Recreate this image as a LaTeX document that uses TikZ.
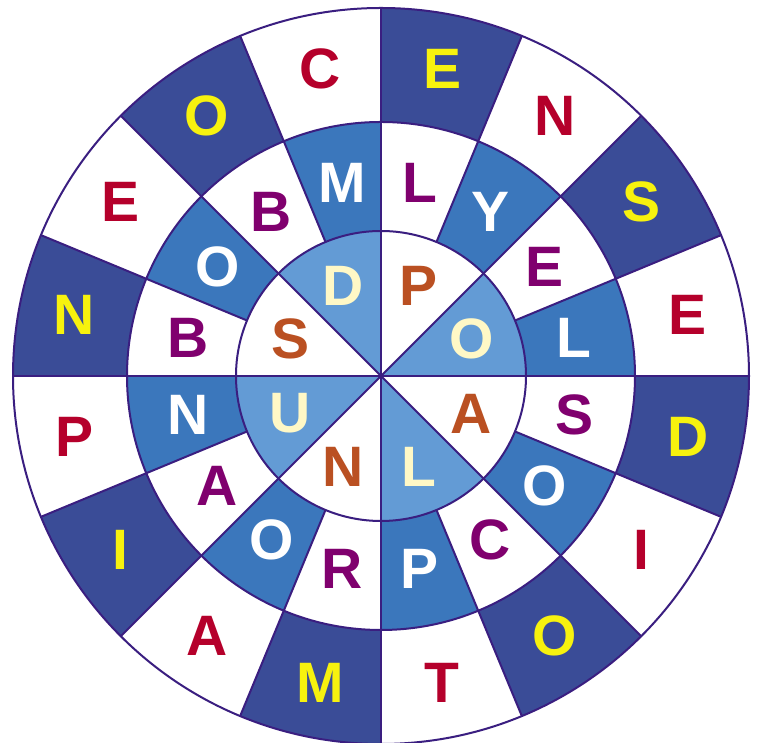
\documentclass[tikz,border=0pt]{standalone}
\usepackage{fontspec}
\setmainfont{Liberation Sans}
\definecolor{rim}{RGB}{58,30,128}
\definecolor{dkblue}{RGB}{58,76,151}
\definecolor{mdblue}{RGB}{59,119,188}
\definecolor{ltblue}{RGB}{99,155,213}
\definecolor{crim}{RGB}{181,0,43}
\definecolor{yell}{RGB}{247,242,14}
\definecolor{purp}{RGB}{128,0,110}
\definecolor{pale}{RGB}{255,248,198}
\definecolor{orng}{RGB}{186,80,34}
\tikzset{
  letter/.style={font=\fontsize{57}{57}\selectfont\bfseries, inner sep=0pt},
  rimline/.style={draw=rim, line width=2pt}
}
\begin{document}
\begin{tikzpicture}[x=1pt,y=1pt]
\useasboundingbox (0,0) rectangle (764,743);
\begin{scope}[shift={(381,367)}]
% outer ring
\foreach \i/\c/\t/\tc in {0/white/E/crim,1/dkblue/S/yell,2/white/N/crim,3/dkblue/E/yell,4/white/C/crim,5/dkblue/O/yell,6/white/E/crim,7/dkblue/N/yell,8/white/P/crim,9/dkblue/I/yell,10/white/A/crim,11/dkblue/M/yell,12/white/T/crim,13/dkblue/O/yell,14/white/I/crim,15/dkblue/D/yell}{
  \pgfmathsetmacro\a{22.5*\i}
  \pgfmathsetmacro\b{22.5*(\i+1)}
  \pgfmathsetmacro\m{22.5*\i+11.25}
  \fill[\c] (\a:254) -- (\a:368) arc[start angle=\a,end angle=\b,radius=368] -- (\b:254) arc[start angle=\b,end angle=\a,radius=254] -- cycle;
  \node[letter,text=\tc] (o\i) at (\m:313) {\t};
}
% middle ring
\foreach \i/\c/\t/\tc in {0/mdblue/L/white,1/white/E/purp,2/mdblue/Y/white,3/white/L/purp,4/mdblue/M/white,5/white/B/purp,6/mdblue/O/white,7/white/B/purp,8/mdblue/N/white,9/white/A/purp,10/mdblue/O/white,11/white/R/purp,12/mdblue/P/white,13/white/C/purp,14/mdblue/O/white,15/white/S/purp}{
  \pgfmathsetmacro\a{22.5*\i}
  \pgfmathsetmacro\b{22.5*(\i+1)}
  \pgfmathsetmacro\m{22.5*\i+11.25}
  \fill[\c] (\a:145) -- (\a:254) arc[start angle=\a,end angle=\b,radius=254] -- (\b:145) arc[start angle=\b,end angle=\a,radius=145] -- cycle;
  \node[letter,text=\tc] (m\i) at (\m:197) {\t};
}
% inner circle
\foreach \i/\c/\t/\tc in {0/ltblue/O/pale,1/white/P/orng,2/ltblue/D/pale,3/white/S/orng,4/ltblue/U/pale,5/white/N/orng,6/ltblue/L/pale,7/white/A/orng}{
  \pgfmathsetmacro\a{45*\i}
  \pgfmathsetmacro\b{45*(\i+1)}
  \pgfmathsetmacro\m{45*\i+22.5}
  \fill[\c] (0,0) -- (\a:145) arc[start angle=\a,end angle=\b,radius=145] -- cycle;
  \node[letter,text=\tc] (n\i) at (\m:98) {\t};
}
% lines
\foreach \i in {0,...,7}{
  \draw[rimline] (0,0) -- ({45*\i}:368);
  \draw[rimline] ({45*\i+22.5}:145) -- ({45*\i+22.5}:368);
}
\draw[rimline] (0,0) circle[radius=145];
\draw[rimline] (0,0) circle[radius=254];
\draw[rimline] (0,0) circle[radius=368];
\end{scope}
\end{tikzpicture}
\end{document}
